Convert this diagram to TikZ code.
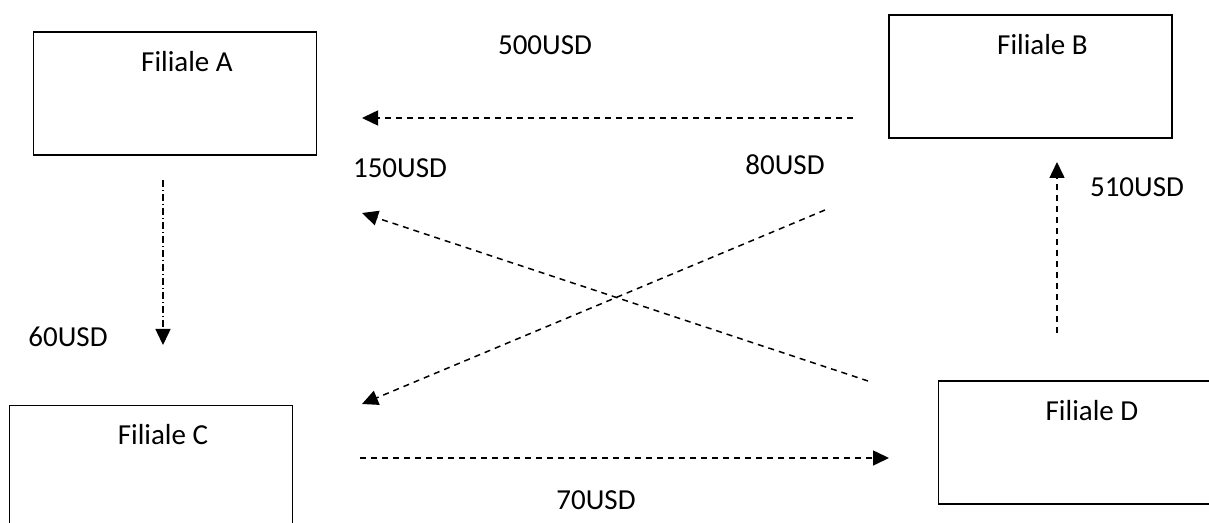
\documentclass[tikz,border=0pt]{standalone}
\usepackage{fontspec}
\setmainfont{Carlito}
\usetikzlibrary{arrows.meta,positioning}

\begin{document}
\begin{tikzpicture}[x=0.5pt, y=-0.5pt, font=\fontsize{14.5}{17}\selectfont,
  filiale/.style={draw, line width=0.8pt, minimum width=141.5pt, minimum height=61.5pt},
  flow/.style={-{Triangle[length=8pt,width=7.5pt]}, line width=0.75pt, dash pattern=on 3pt off 2.5pt}]
\useasboundingbox (0,0) rectangle (1209,523);
\foreach \n/\u/\v in {A/175/93.5, B/1030.5/76.5, C/151/467, D/1080/442.5}
{
\node[filiale] (\n) at (\u,\v) {};
\node (t\n) at ([xshift=6pt,yshift=-15pt]\n.north) {Filiale \n};
}
% start and end of each transfer
\foreach \w/\a/\b/\c/\d in {500/853/118/362/118, 150/868/381/362/213, 80/825/210/362/404, 60/163/180/163/345, 510/1057/333/1057/162, 70/360/458/889/458}
{
\coordinate (s\w) at (\a,\b);
\coordinate (e\w) at (\c,\d);
}
\foreach \w in {500,150,80,510,70}
\draw[flow] (s\w) -- (e\w);
\draw[flow, dash pattern=on 3.5pt off 1.5pt on 0.5pt off 1.5pt] (s60) -- (e60);
\foreach \u/\v/\w in {545/45/500, 400/168/150, 785/165/80, 68/337/60, 1137/187/510, 596/500/70}
\node (m\w) at (\u,\v) {\w USD};
\end{tikzpicture}
\end{document}
